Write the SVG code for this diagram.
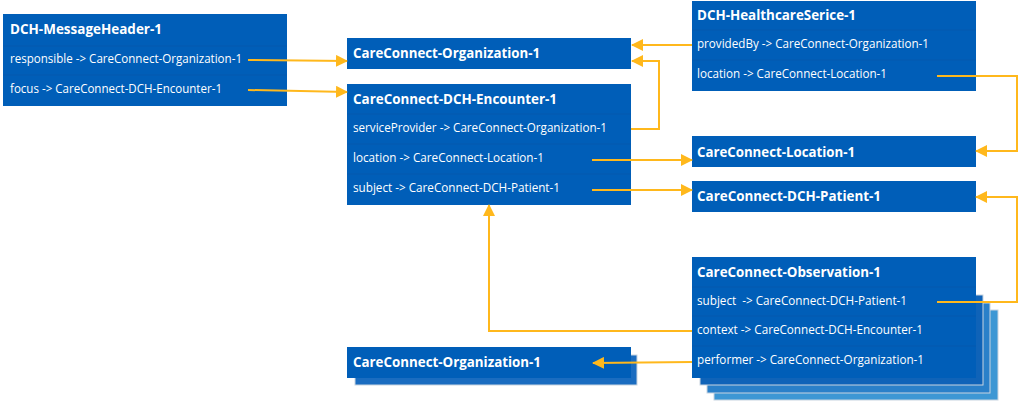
<svg xmlns="http://www.w3.org/2000/svg" width="1020" height="401" viewBox="0 0 1020 401">
<defs>
<marker id="arr" markerUnits="userSpaceOnUse" markerWidth="12" markerHeight="12" viewBox="0 0 12 12" refX="11" refY="6" orient="auto">
<path d="M0,0 L12,6 L0,12 z" fill="#FFB81C"/>
</marker>
<style>
.box{fill:#005EB8;}
.sep{stroke:#0559AE;stroke-width:1;}
.t{font-family:"Open Sans","Liberation Sans",sans-serif;font-weight:bold;font-size:14.5px;fill:#ffffff;}
.r{font-family:"Open Sans","Liberation Sans",sans-serif;font-size:12px;fill:#ffffff;}
.c{fill:none;stroke:#FFB81C;stroke-width:2;marker-end:url(#arr);}
</style>
</defs>
<rect width="1020" height="401" fill="#ffffff"/>

<g id="msgheader">
<rect class="box" x="3" y="14" width="284" height="92"/>
<line class="sep" x1="3" y1="46" x2="287" y2="46"/>
<line class="sep" x1="3" y1="75" x2="287" y2="75"/>
<text class="t" x="10" y="34" textLength="152" lengthAdjust="spacingAndGlyphs">DCH-MessageHeader-1</text>
<text class="r" x="10" y="63" textLength="232" lengthAdjust="spacingAndGlyphs">responsible -&gt; CareConnect-Organization-1</text>
<text class="r" x="10" y="93" textLength="212" lengthAdjust="spacingAndGlyphs">focus -&gt; CareConnect-DCH-Encounter-1</text>
</g>

<g id="org-top">
<rect class="box" x="347" y="38" width="284" height="31"/>
<text class="t" x="353" y="58" textLength="187" lengthAdjust="spacingAndGlyphs">CareConnect-Organization-1</text>
</g>

<g id="encounter">
<rect class="box" x="347" y="84" width="284" height="121"/>
<line class="sep" x1="347" y1="114" x2="631" y2="114"/>
<line class="sep" x1="347" y1="144" x2="631" y2="144"/>
<line class="sep" x1="347" y1="174" x2="631" y2="174"/>
<text class="t" x="353" y="104" textLength="204" lengthAdjust="spacingAndGlyphs">CareConnect-DCH-Encounter-1</text>
<text class="r" x="353" y="132" textLength="254" lengthAdjust="spacingAndGlyphs">serviceProvider -&gt; CareConnect-Organization-1</text>
<text class="r" x="353" y="162" textLength="191" lengthAdjust="spacingAndGlyphs">location -&gt; CareConnect-Location-1</text>
<text class="r" x="353" y="192" textLength="207" lengthAdjust="spacingAndGlyphs">subject -&gt; CareConnect-DCH-Patient-1</text>
</g>

<g id="healthcareservice">
<rect class="box" x="692" y="1" width="284" height="90"/>
<line class="sep" x1="692" y1="30" x2="976" y2="30"/>
<line class="sep" x1="692" y1="60" x2="976" y2="60"/>
<text class="t" x="697" y="20" textLength="159" lengthAdjust="spacingAndGlyphs">DCH-HealthcareSerice-1</text>
<text class="r" x="697" y="48" textLength="232" lengthAdjust="spacingAndGlyphs">providedBy -&gt; CareConnect-Organization-1</text>
<text class="r" x="697" y="78" textLength="190" lengthAdjust="spacingAndGlyphs">location -&gt; CareConnect-Location-1</text>
</g>

<g id="location">
<rect class="box" x="692" y="136" width="284" height="31"/>
<text class="t" x="697" y="157" textLength="158" lengthAdjust="spacingAndGlyphs">CareConnect-Location-1</text>
</g>

<g id="patient">
<rect class="box" x="692" y="181" width="284" height="31"/>
<text class="t" x="697" y="201" textLength="184" lengthAdjust="spacingAndGlyphs">CareConnect-DCH-Patient-1</text>
</g>

<g id="observation">
<rect x="714" y="310" width="284" height="90" fill="#3D97D4" stroke="#c8d4e0" stroke-width="1"/>
<rect x="707" y="303" width="283" height="90" fill="#2A80C9" stroke="#c8d4e0" stroke-width="1"/>
<rect x="700" y="295" width="283" height="90" fill="#0F63B8" stroke="#c8d4e0" stroke-width="1"/>
<rect class="box" x="692" y="257" width="284" height="121"/>
<line class="sep" x1="692" y1="287" x2="976" y2="287"/>
<line class="sep" x1="692" y1="316" x2="976" y2="316"/>
<line class="sep" x1="692" y1="346" x2="976" y2="346"/>
<text class="t" x="697" y="277" textLength="184" lengthAdjust="spacingAndGlyphs">CareConnect-Observation-1</text>
<text class="r" x="697" y="305" textLength="210" lengthAdjust="spacingAndGlyphs" xml:space="preserve">subject  -&gt; CareConnect-DCH-Patient-1</text>
<text class="r" x="697" y="334" textLength="226" lengthAdjust="spacingAndGlyphs">context -&gt; CareConnect-DCH-Encounter-1</text>
<text class="r" x="697" y="364" textLength="227" lengthAdjust="spacingAndGlyphs">performer -&gt; CareConnect-Organization-1</text>
</g>

<g id="org-bottom">
<rect x="355" y="355" width="282" height="30" fill="#1A6CC0" stroke="#c8d4e0" stroke-width="1"/>
<rect class="box" x="347" y="347" width="284" height="31"/>
<text class="t" x="353" y="367" textLength="188" lengthAdjust="spacingAndGlyphs">CareConnect-Organization-1</text>
</g>

<g id="connectors">
<path class="c" d="M248,60 L347,61"/>
<path class="c" d="M248,90 L347,92"/>
<path class="c" d="M631,129 L659,129 L659,61 L632,61"/>
<path class="c" d="M692,45 L632,45"/>
<path class="c" d="M592,160 L692,160"/>
<path class="c" d="M592,190 L692,190"/>
<path class="c" d="M937,76 L1017,76 L1017,151 L976,151"/>
<path class="c" d="M937,302 L1017,302 L1017,197 L976,197"/>
<path class="c" d="M692,331 L489,331 L489,205"/>
<path class="c" d="M692,362 L593,363"/>
</g>
</svg>
